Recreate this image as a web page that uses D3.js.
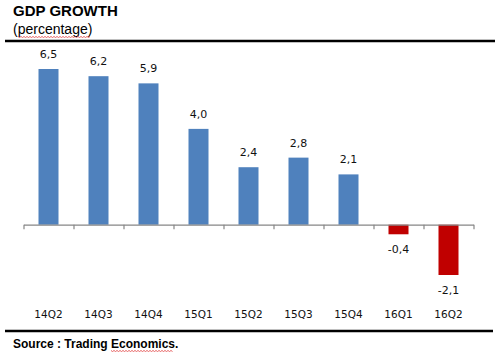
<!DOCTYPE html>
<html>
<head>
<meta charset="utf-8">
<script src="https://cdn.jsdelivr.net/npm/d3@7"></script>
<style>
  body { margin: 0; background: #fff; }
  svg { display: block; }
</style>
</head>
<body>
<div id="chart"></div>
<script>
// quarters and GDP growth (percent)
var quarters = ["14Q2", "14Q3", "14Q4", "15Q1", "15Q2", "15Q3", "15Q4", "16Q1", "16Q2"];
var growth = [6.5, 6.2, 5.9, 4.0, 2.4, 2.8, 2.1, -0.4, -2.1];

var width = 500, height = 360;

var svg = d3.select("#chart").append("svg")
    .attr("width", width)
    .attr("height", height);

// title block
svg.append("text")
    .attr("x", 13).attr("y", 16)
    .style("font-family", "Liberation Sans, Arial, sans-serif")
    .style("font-weight", "bold")
    .style("font-size", "15px")
    .text("GDP GROWTH");

svg.append("text")
    .attr("x", 13).attr("y", 34)
    .style("font-family", "Liberation Sans, Arial, sans-serif")
    .style("font-size", "14px")
    .text("(percentage)");

// spell-check squiggle helper
function squiggle(x0, x1, y) {
    var pts = [];
    for (var x = x0, i = 0; x <= x1; x += 1.5, i++) {
        pts.push([x, y + (i % 2 ? 1 : 0)]);
    }
    svg.append("path")
        .attr("d", d3.line()(pts))
        .attr("fill", "none")
        .attr("stroke", "#e04040")
        .attr("stroke-width", 0.8);
}
squiggle(18, 90, 36.5);

// heavy rules top and bottom
svg.append("line")
    .attr("x1", 5).attr("x2", 495).attr("y1", 41).attr("y2", 41)
    .attr("stroke", "#000").attr("stroke-width", 2.5);
svg.append("line")
    .attr("x1", 5).attr("x2", 493).attr("y1", 331).attr("y2", 331)
    .attr("stroke", "#000").attr("stroke-width", 2.5);

// scales
var x = d3.scaleBand()
    .domain(quarters)
    .range([23.5, 473.5])
    .paddingInner(0.6)
    .paddingOuter(0.3);

var y = d3.scaleLinear()
    .domain([-2.1, 6.5])
    .range([275, 69]);

var zeroY = y(0);

// bars
svg.selectAll(".bar")
    .data(growth)
    .enter()
    .append("rect")
    .attr("class", "bar")
    .attr("x", function (d, i) { return x(quarters[i]); })
    .attr("width", x.bandwidth())
    .attr("y", function (d) { return d >= 0 ? y(d) : zeroY; })
    .attr("height", function (d) { return Math.abs(y(d) - zeroY); })
    .attr("fill", function (d) { return d >= 0 ? "#4f81bd" : "#c00000"; });

// axis line at zero with tick marks between categories
var axis = d3.axisBottom(d3.scaleLinear().domain([0, quarters.length]).range([23.5, 473.5]))
    .ticks(quarters.length)
    .tickSize(4.5)
    .tickSizeOuter(0)
    .tickFormat("");

var ax = svg.append("g")
    .attr("transform", "translate(0," + zeroY + ")")
    .call(axis);
ax.select(".domain").attr("stroke", "#868686").attr("stroke-width", 1.2);
ax.selectAll(".tick line").attr("stroke", "#868686").attr("stroke-width", 1.2);

// value labels
svg.selectAll(".val")
    .data(growth)
    .enter()
    .append("text")
    .attr("class", "val")
    .attr("x", function (d, i) { return x(quarters[i]) + x.bandwidth() / 2; })
    .attr("y", function (d) { return d >= 0 ? y(d) - 11 : y(d) + 19; })
    .attr("text-anchor", "middle")
    .style("font-family", "DejaVu Sans, sans-serif")
    .style("font-size", "11px")
    .attr("fill", "#111")
    .text(function (d) { return d.toFixed(1).replace(".", ","); });

// category labels
svg.selectAll(".cat")
    .data(quarters)
    .enter()
    .append("text")
    .attr("class", "cat")
    .attr("x", function (d) { return x(d) + x.bandwidth() / 2; })
    .attr("y", 318)
    .attr("text-anchor", "middle")
    .style("font-family", "DejaVu Sans, sans-serif")
    .style("font-size", "10.5px")
    .attr("fill", "#111")
    .text(function (d) { return d; });

// source
svg.append("text")
    .attr("x", 13).attr("y", 348)
    .style("font-family", "Liberation Sans, Arial, sans-serif")
    .style("font-weight", "bold")
    .style("font-size", "12px")
    .text("Source : Trading Economics.");
squiggle(111, 173, 350.5);
</script>
</body>
</html>
